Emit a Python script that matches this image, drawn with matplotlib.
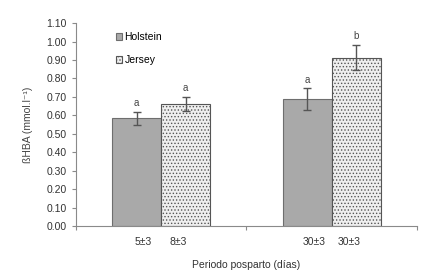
import matplotlib.pyplot as plt
import numpy as np

# Datos
periodos = ['5±3 / 8±3', '30±3 / 30±3']
etiquetas_h = ['5±3', '30±3']
etiquetas_j = ['8±3', '30±3']
holstein = [0.585, 0.688]
holstein_err = [0.035, 0.058]
jersey = [0.662, 0.913]
jersey_err = [0.040, 0.070]
letras_h = ['a', 'a']
letras_j = ['a', 'b']

plt.rcParams['font.family'] = ['Liberation Sans', 'DejaVu Sans']
plt.rcParams['hatch.color'] = '#d2d2d2'
plt.rcParams['hatch.linewidth'] = 0.6
fig = plt.figure(figsize=(4.39, 2.78), dpi=100)
ax = fig.add_axes([0.173, 0.187, 0.777, 0.73])

x = np.arange(1, len(periodos) + 1)
w = 0.288
gris = '#8a8a8a'

ax.bar(x - w / 2, holstein, w, color='#a9a9a9', edgecolor='#6e6e6e', linewidth=0.8,
       label='Holstein', zorder=2)
ax.bar(x + w / 2, jersey, w, color='#efefef', edgecolor='#555555', linewidth=0.8,
       hatch='.....', label='Jersey', zorder=2)

ax.errorbar(x - w / 2, holstein, yerr=holstein_err, fmt='none', ecolor='#555555',
            elinewidth=1, capsize=3, capthick=1, zorder=3)
ax.errorbar(x + w / 2, jersey, yerr=jersey_err, fmt='none', ecolor='#555555',
            elinewidth=1, capsize=3, capthick=1, zorder=3)

for xi, v, e, t in zip(x - w / 2, holstein, holstein_err, letras_h):
    ax.text(xi, v + e + 0.02, t, ha='center', va='bottom', fontsize=7, color='#444444')
for xi, v, e, t in zip(x + w / 2, jersey, jersey_err, letras_j):
    ax.text(xi, v + e + 0.02, t, ha='center', va='bottom', fontsize=7, color='#444444')

# etiquetas de periodo bajo cada barra
for xi, t in zip(x - 0.105, etiquetas_h):
    ax.text(xi, -0.06, t, ha='center', va='top', fontsize=7.5, color='#333333')
for xi, t in zip(x + 0.1, etiquetas_j):
    ax.text(xi, -0.06, t, ha='center', va='top', fontsize=7.5, color='#333333')

ax.set_xlim(0.5, len(periodos) + 0.5)
ax.set_ylim(0, 1.1)
ax.set_yticks(np.arange(0, 1.11, 0.1))
ax.set_yticklabels([f'{v:.2f}' for v in np.arange(0, 1.11, 0.1)])
ax.set_xticks(np.arange(0.5, len(periodos) + 1, 1))
ax.set_xticklabels([])

for s in ['top', 'right']:
    ax.spines[s].set_visible(False)
for s in ['left', 'bottom']:
    ax.spines[s].set_color(gris)
    ax.spines[s].set_linewidth(0.8)
ax.tick_params(axis='y', colors=gris, labelcolor='#333333', labelsize=7.5, length=3, width=0.8)
ax.tick_params(axis='x', colors=gris, length=3, width=0.8)

ax.set_ylabel('ßHBA (mmol.l⁻¹)', fontsize=7.5, color='#444444', labelpad=10)
ax.set_xlabel('Periodo posparto (días)', fontsize=7.5, color='#333333', labelpad=18)

ax.legend(loc='upper left', bbox_to_anchor=(0.09, 1.0), frameon=False, fontsize=7.5,
          handlelength=0.6, handleheight=0.6, handletextpad=0.2, labelspacing=1.2)

fig.savefig('out.png', dpi=100)
